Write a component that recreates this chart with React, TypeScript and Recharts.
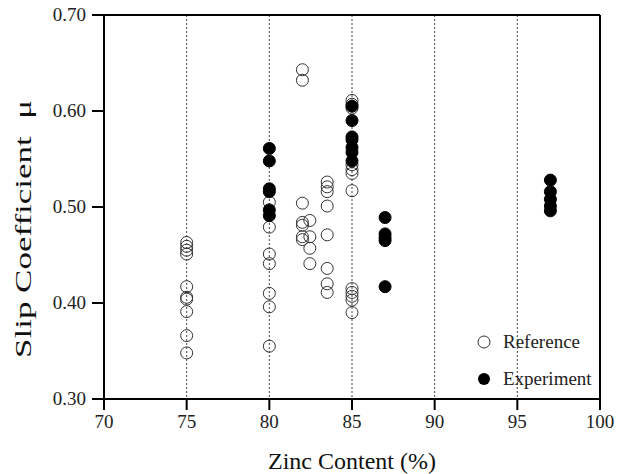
import {
  ScatterChart,
  Scatter,
  XAxis,
  YAxis,
  CartesianGrid,
  ReferenceLine,
} from "recharts";

// slip coefficient readings grouped by zinc content (%)
const refAt75 = [0.463, 0.459, 0.455, 0.451, 0.417, 0.406, 0.404, 0.391, 0.366, 0.348];
const refAt80 = [0.505, 0.479, 0.451, 0.441, 0.41, 0.396, 0.355];
const refAt82 = [0.643, 0.632, 0.504, 0.484, 0.481, 0.469, 0.466];
const refAt82_45 = [0.486, 0.469, 0.457, 0.441];
const refAt83_5 = [0.526, 0.521, 0.516, 0.501, 0.471, 0.436, 0.42, 0.411];
const refAt85 = [0.611, 0.607, 0.603, 0.544, 0.539, 0.535, 0.517, 0.415, 0.411, 0.407, 0.403, 0.39];

const expAt80 = [0.561, 0.548, 0.519, 0.516, 0.497, 0.491];
const expAt85 = [0.605, 0.59, 0.573, 0.57, 0.562, 0.557, 0.548];
const expAt87 = [0.489, 0.472, 0.468, 0.465, 0.417];
const expAt97 = [0.528, 0.516, 0.508, 0.501, 0.496];

const xTicks = [70, 75, 80, 85, 90, 95, 100];
const yTicks = [0.3, 0.4, 0.5, 0.6, 0.7];

const toPoints = (zinc: number, values: number[]) =>
  values.map((mu) => ({ zinc, mu }));

const referenceData = [
  ...toPoints(75, refAt75),
  ...toPoints(80, refAt80),
  ...toPoints(82, refAt82),
  ...toPoints(82.45, refAt82_45),
  ...toPoints(83.5, refAt83_5),
  ...toPoints(85, refAt85),
];

const experimentData = [
  ...toPoints(80, expAt80),
  ...toPoints(85, expAt85),
  ...toPoints(87, expAt87),
  ...toPoints(97, expAt97),
];

const FONT = "Liberation Serif";

const OpenDot = (props: any) => (
  <circle cx={props.cx} cy={props.cy} r={6} fill="none" stroke="#333" strokeWidth={1} />
);

const FilledDot = (props: any) => (
  <circle cx={props.cx} cy={props.cy} r={6} fill="#000" stroke="#000" strokeWidth={1} />
);

const XTick = ({ x, y, payload }: any) => (
  <text x={x} y={y} dy={13} textAnchor="middle" fontFamily={FONT} fontSize={19} fill="#222">
    {payload.value}
  </text>
);

const YTick = ({ x, y, payload }: any) => (
  <text x={x} y={y} dy={6} textAnchor="end" fontFamily={FONT} fontSize={19} fill="#222">
    {Number(payload.value).toFixed(2)}
  </text>
);

// vertical axis title, drawn stretched along its length
const YLabel = (props: any) => {
  const vb = props.viewBox || { y: 15, height: 384 };
  const cx = 31;
  const cy = vb.y + vb.height / 2 + 22;
  return (
    <text
      x={cx}
      y={cy}
      transform={`rotate(-90, ${cx}, ${cy})`}
      textAnchor="middle"
      fontFamily={FONT}
      fontSize={23}
      fill="#111"
      textLength={258}
      lengthAdjust="spacingAndGlyphs"
    >
      {"Slip Coefficient\u00a0\u00a0μ"}
    </text>
  );
};

// legend sits inside the lower-right corner of the plot
const LegendBox = () => (
  <div
    style={{
      position: "absolute",
      left: 476,
      top: 323,
      fontFamily: FONT,
      fontSize: 19,
      color: "#222",
      lineHeight: "37px",
    }}
  >
    <div style={{ display: "flex", alignItems: "center" }}>
      <svg width={16} height={16} style={{ marginRight: 11 }}>
        <circle cx={8} cy={8} r={6} fill="none" stroke="#333" strokeWidth={1} />
      </svg>
      Reference
    </div>
    <div style={{ display: "flex", alignItems: "center" }}>
      <svg width={16} height={16} style={{ marginRight: 11 }}>
        <circle cx={8} cy={8} r={6} fill="#000" />
      </svg>
      Experiment
    </div>
  </div>
);

export default function App() {
  return (
    <div
      style={{
        position: "fixed",
        left: 0,
        top: 0,
        width: 628,
        height: 474,
        background: "#fff",
        fontFamily: FONT,
      }}
    >
      <ScatterChart
        width={628}
        height={474}
        margin={{ top: 15, right: 28, bottom: 0, left: 44 }}
      >
        <CartesianGrid
          horizontal={false}
          stroke="#444"
          strokeDasharray="2 2"
          strokeWidth={1}
        />
        <XAxis
          type="number"
          dataKey="zinc"
          domain={[70, 100]}
          ticks={xTicks}
          allowDataOverflow
          height={75}
          axisLine={{ stroke: "#000", strokeWidth: 2 }}
          tickLine={{ stroke: "#000", strokeWidth: 2 }}
          tickSize={11}
          tickMargin={5}
          tick={<XTick />}
          label={{
            value: "Zinc Content (%)",
            position: "insideBottom",
            offset: 5,
            style: { fontFamily: FONT, fontSize: 24, fill: "#111" },
          }}
        />
        <YAxis
          type="number"
          dataKey="mu"
          domain={[0.3, 0.7]}
          ticks={yTicks}
          allowDataOverflow
          width={60}
          axisLine={{ stroke: "#000", strokeWidth: 2 }}
          tickLine={{ stroke: "#000", strokeWidth: 2 }}
          tickSize={12}
          tickMargin={6}
          tick={<YTick />}
          label={<YLabel />}
        />
        <ReferenceLine y={0.7} stroke="#000" strokeWidth={2} />
        <ReferenceLine x={100} stroke="#000" strokeWidth={2} />
        <Scatter
          name="Reference"
          data={referenceData}
          shape={OpenDot}
          isAnimationActive={false}
        />
        <Scatter
          name="Experiment"
          data={experimentData}
          shape={FilledDot}
          isAnimationActive={false}
        />
      </ScatterChart>
      <LegendBox />
    </div>
  );
}
